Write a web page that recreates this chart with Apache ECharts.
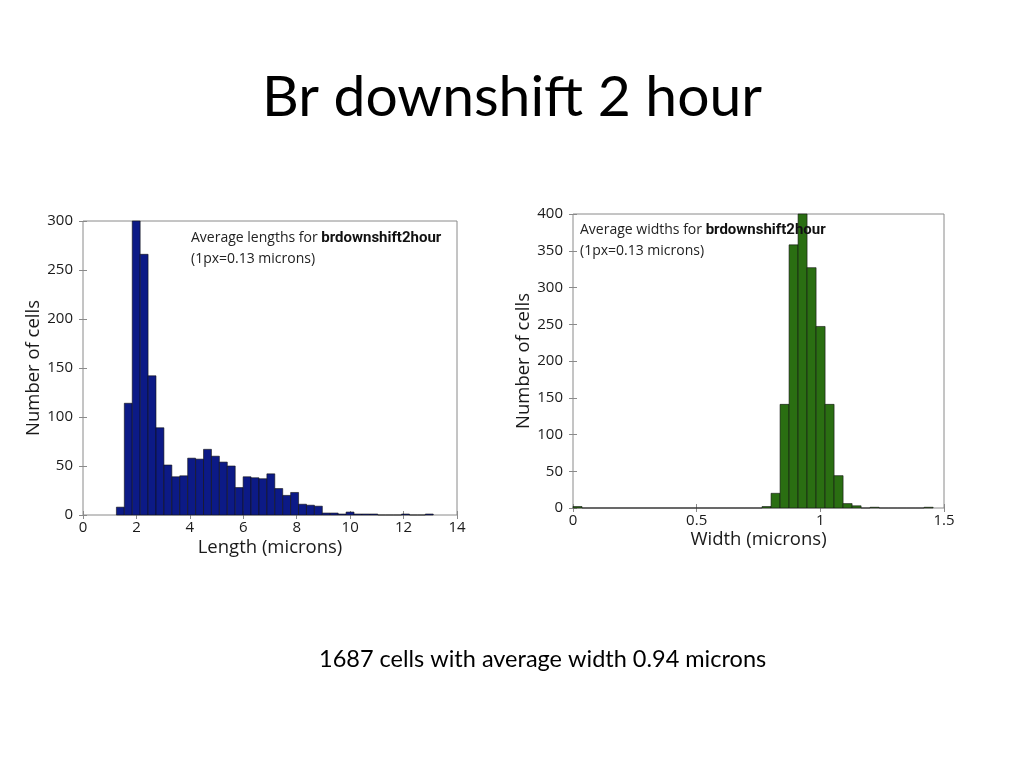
<!DOCTYPE html>
<html>
<head>
<meta charset="utf-8">
<title>Br downshift 2 hour</title>
<script src="https://cdn.jsdelivr.net/npm/echarts@6/dist/echarts.min.js"></script>
<style>
  html, body { margin: 0; padding: 0; background: #fff; }
  #chart { width: 1024px; height: 768px; }
</style>
</head>
<body>
<div id="chart"></div>
<script>
// histogram of cell lengths (microns), 40 bins
const lengthBinStart = 1.25
const lengthBinWidth = 0.2965
const lengthCounts = [
  8, 114, 300, 266, 142, 89, 51, 39, 40, 58,
  57, 67, 60, 54, 50, 28, 39, 38, 37, 42,
  27, 20, 23, 11, 10, 9, 2, 2, 1, 3,
  1, 1, 1, 0, 0, 0, 1, 0, 0, 1
]

// histogram of cell widths (microns), 40 bins
const widthBinStart = 0
const widthBinWidth = 0.0364
const widthCounts = [
  2, 0, 0, 0, 0, 0, 0, 0, 0, 0,
  0, 0, 0, 0, 0, 0, 0, 0, 0, 0,
  0, 2, 20, 141, 358, 400, 327, 247, 141, 44,
  6, 3, 0, 1, 0, 0, 0, 0, 0, 1
]

const lengthTicks = [0, 2, 4, 6, 8, 10, 12, 14]
const widthTicks = [0, 0.5, 1, 1.5]

const TEXT_FONT = 'Open Sans'
const FRAME = '#8a8a8a'

function toBins(start, width, counts) {
  return counts.map((c, i) => [start + i * width, start + (i + 1) * width, c])
}

function histRender(fill) {
  return function (params, api) {
    const p0 = api.coord([api.value(0), api.value(2)])
    const p1 = api.coord([api.value(1), 0])
    const rect = echarts.graphic.clipRectByRect(
      { x: p0[0], y: p0[1], width: p1[0] - p0[0], height: p1[1] - p0[1] },
      params.coordSys
    )
    if (!rect) return
    return {
      type: 'rect',
      shape: rect,
      style: { fill, stroke: '#111', lineWidth: 0.6 }
    }
  }
}

function valueAxis(opts) {
  return Object.assign({
    type: 'value',
    axisLine: { show: false },
    axisTick: { show: true, inside: true, length: 4, lineStyle: { color: FRAME } },
    splitLine: { show: false },
    axisLabel: { color: '#1a1a1a', fontFamily: TEXT_FONT, fontSize: 15 }
  }, opts)
}

const noteRich = {
  n: { fontFamily: TEXT_FONT, fontSize: 14, fill: '#222', lineHeight: 21 },
  b: { fontFamily: 'Liberation Sans Narrow, Roboto', fontWeight: 'bold', fontSize: 15, fill: '#111', lineHeight: 21 }
}

const nameStyle = { fontFamily: TEXT_FONT, fontSize: 18.5, color: '#1a1a1a' }

const chart = echarts.init(document.getElementById('chart'))

const leftGrid = { left: 83, top: 221, width: 374, height: 294 }
const rightGrid = { left: 573, top: 214, width: 371, height: 294 }

chart.setOption({
  animation: false,
  title: [
    {
      text: 'Br downshift 2 hour',
      left: 'center',
      top: 64,
      textStyle: { fontFamily: 'Lato', fontWeight: 'normal', fontSize: 57, color: '#000' }
    },
    {
      text: '1687 cells with average width 0.94 microns',
      left: 314,
      top: 642,
      textStyle: { fontFamily: 'Lato', fontWeight: 'normal', fontSize: 23.5, color: '#000' }
    }
  ],
  grid: [
    Object.assign({ show: true, borderColor: FRAME, borderWidth: 1 }, leftGrid),
    Object.assign({ show: true, borderColor: FRAME, borderWidth: 1 }, rightGrid)
  ],
  xAxis: [
    valueAxis({
      gridIndex: 0, min: 0, max: 14, interval: 2,
      name: 'Length (microns)', nameLocation: 'middle', nameGap: 23,
      nameTextStyle: nameStyle,
      axisLabel: { color: '#1a1a1a', fontFamily: TEXT_FONT, fontSize: 15, margin: 5,
        customValues: lengthTicks }
    }),
    valueAxis({
      gridIndex: 0, min: 0, max: 14, interval: 2, position: 'top',
      axisLabel: { show: false }
    }),
    valueAxis({
      gridIndex: 1, min: 0, max: 1.5, interval: 0.5,
      name: 'Width (microns)', nameLocation: 'middle', nameGap: 22,
      nameTextStyle: nameStyle,
      axisLabel: { color: '#1a1a1a', fontFamily: TEXT_FONT, fontSize: 15, margin: 5,
        customValues: widthTicks }
    }),
    valueAxis({
      gridIndex: 1, min: 0, max: 1.5, interval: 0.5, position: 'top',
      axisLabel: { show: false }
    })
  ],
  yAxis: [
    valueAxis({
      gridIndex: 0, min: 0, max: 300, interval: 50,
      name: 'Number of cells', nameLocation: 'middle', nameGap: 35,
      nameTextStyle: nameStyle,
      axisLabel: { color: '#1a1a1a', fontFamily: TEXT_FONT, fontSize: 15, margin: 10 }
    }),
    valueAxis({
      gridIndex: 0, min: 0, max: 300, interval: 50, position: 'right',
      axisLabel: { show: false }
    }),
    valueAxis({
      gridIndex: 1, min: 0, max: 400, interval: 50,
      name: 'Number of cells', nameLocation: 'middle', nameGap: 34,
      nameTextStyle: nameStyle,
      axisLabel: { color: '#1a1a1a', fontFamily: TEXT_FONT, fontSize: 15, margin: 10 }
    }),
    valueAxis({
      gridIndex: 1, min: 0, max: 400, interval: 50, position: 'right',
      axisLabel: { show: false }
    })
  ],
  graphic: [
    {
      type: 'text',
      left: 191, top: 231,
      style: {
        text: '{n|Average lengths for }{b|brdownshift2hour}\n{n|(1px=0.13 microns)}',
        rich: noteRich
      }
    },
    {
      type: 'text',
      left: 580, top: 223,
      z: 10,
      style: {
        text: '{n|Average widths for }{b|brdownshift2hour}\n{n|(1px=0.13 microns)}',
        rich: noteRich
      }
    }
  ],
  series: [
    {
      type: 'custom',
      xAxisIndex: 0, yAxisIndex: 0,
      renderItem: histRender('#0c1a86'),
      data: toBins(lengthBinStart, lengthBinWidth, lengthCounts),
      encode: { x: [0, 1], y: 2 }
    },
    {
      type: 'custom',
      xAxisIndex: 2, yAxisIndex: 2,
      renderItem: histRender('#2a6e12'),
      data: toBins(widthBinStart, widthBinWidth, widthCounts),
      encode: { x: [0, 1], y: 2 }
    }
  ]
})
</script>
</body>
</html>
